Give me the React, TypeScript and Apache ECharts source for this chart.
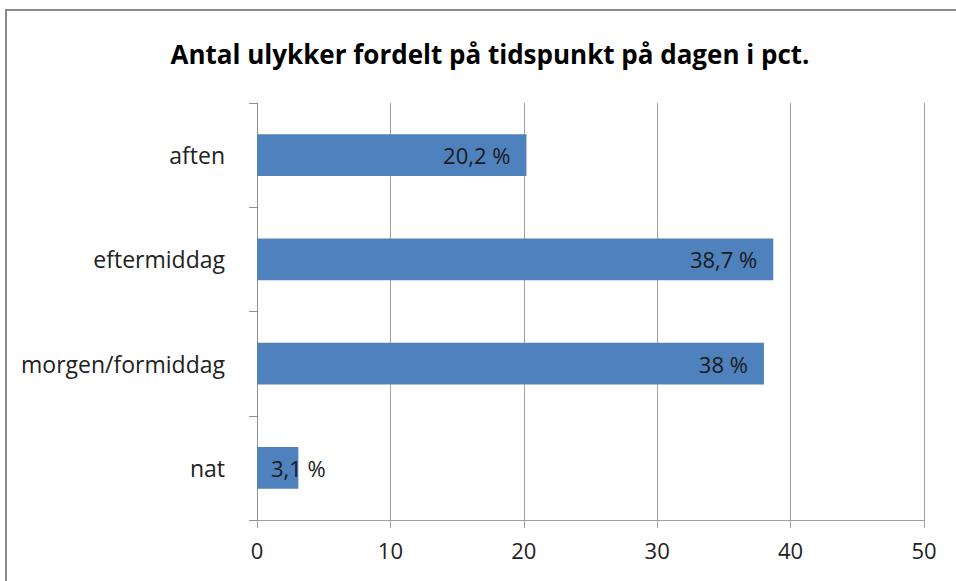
import React, { useEffect, useRef } from "react";
import * as echarts from "echarts";

const titleText = "Antal ulykker fordelt på tidspunkt på dagen i pct.";
const categories = ["nat", "morgen/formiddag", "eftermiddag", "aften"];
const values = [3.1, 38, 38.7, 20.2];
const xMin = 0;
const xMax = 50;
const xInterval = 10;

const FONT = "'Open Sans', 'Noto Sans', sans-serif";

export default function App() {
  const ref = useRef<HTMLDivElement>(null);
  useEffect(() => {
    if (!ref.current) return;
    const chart = echarts.init(ref.current, undefined, { renderer: "svg" });
    const fmt = (v: number) => String(v).replace(".", ",") + " %";
    chart.setOption({
      animation: false,
      backgroundColor: "#ffffff",
      title: {
        text: titleText,
        left: 485,
        textAlign: "center",
        top: 36,
        textStyle: { fontFamily: FONT, fontWeight: "bold", fontSize: 26, color: "#000" },
      },
      graphic: [
        {
          type: "rect",
          shape: { x: 6, y: 10, width: 970, height: 620 },
          style: { fill: "none", stroke: "#8a8a8a", lineWidth: 2 },
          silent: true,
        },
      ],
      grid: { left: 257, right: 32, top: 103, bottom: 61, containLabel: false },
      xAxis: {
        type: "value",
        min: xMin,
        max: xMax,
        interval: xInterval,
        axisLine: { show: true, lineStyle: { color: "#a0a0a0", width: 1 } },
        axisTick: { show: true, length: 8, lineStyle: { color: "#a0a0a0" } },
        splitLine: { show: true, lineStyle: { color: "#a0a0a0", width: 1 } },
        axisLabel: { margin: 19, fontFamily: FONT, fontSize: 22, color: "#222" },
      },
      yAxis: {
        type: "category",
        data: categories,
        axisLine: { show: true, lineStyle: { color: "#909090", width: 1 } },
        axisTick: { show: true, length: 8, lineStyle: { color: "#909090" } },
        axisLabel: { margin: 32, fontFamily: FONT, fontSize: 23, color: "#222" },
        splitLine: { show: false },
      },
      series: [
        {
          type: "bar",
          barWidth: "40%",
          itemStyle: { color: "#4f81bd" },
          data: values.map((v, i) =>
            i === 0
              ? {
                  value: v,
                  label: { position: [14, "50%"], align: "left", verticalAlign: "middle" },
                }
              : { value: v }
          ),
          label: {
            show: true,
            position: "insideRight",
            distance: 16,
            fontFamily: FONT,
            fontSize: 22,
            color: "#1a1a1a",
            formatter: (p: any) => fmt(p.value),
          },
        },
      ],
    });
    return () => chart.dispose();
  }, []);
  return (
    <div
      ref={ref}
      style={{ position: "fixed", left: 0, top: 0, width: 956, height: 581 }}
    />
  );
}
